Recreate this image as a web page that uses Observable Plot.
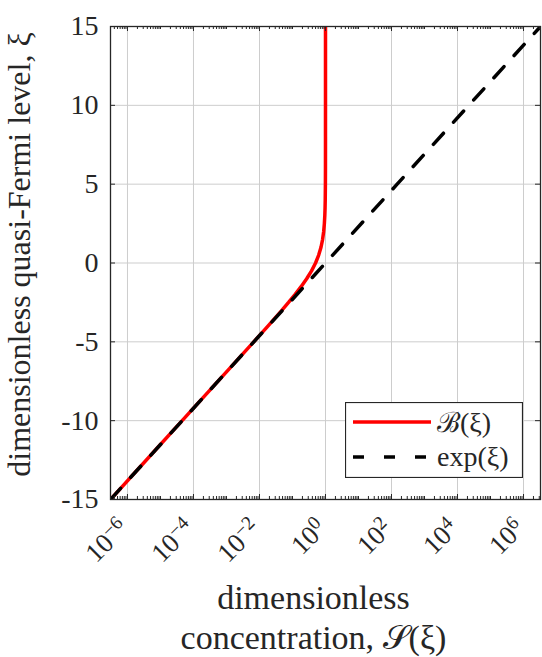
<!DOCTYPE html>
<html><head><meta charset="utf-8">
<script src="https://cdn.jsdelivr.net/npm/d3@7"></script>
<script src="https://cdn.jsdelivr.net/npm/@observablehq/plot@0.6"></script>
<style>
html,body{margin:0;padding:0;background:#fff;}
#wrap{position:relative;width:542px;height:657px;}
#legend{position:absolute;left:345px;top:402px;}
</style></head><body><div id="wrap"></div>
<script>
// red curve B(xi): dimensionless quasi-Fermi level vs concentration
const bXi = [-15,-12,-10,-8,-6,-5,-4,-3,-2.5,-2,-1.5,-1,-0.5,0,0.5,1,1.5,2,2.5,3,3.5,4,5,6,8,10,15];
const bS  = [3.06e-7,6.1e-6,4.54e-5,3.35e-4,2.47e-3,6.69e-3,0.018,0.0474,0.0759,0.119,0.182,0.269,0.378,0.5,0.622,0.731,0.818,0.881,0.924,0.953,0.971,0.982,0.9933,0.9975,0.99966,0.99995,1.0];
// black dashed exp(xi)
const eXi = [-15,-10,-5,0,5,10,15];
const eS  = [3.06e-7,4.54e-5,6.74e-3,1,148.4,2.2e4,3.27e6];
const xDomain = [3.06e-7, 3.27e6];
const yDomain = [-15, 15];
const xTicks = [1e-6,1e-4,1e-2,1,1e2,1e4,1e6];
const xTickBase = ["10","10","10","10","10","10","10"];
const xTickExp = ["−6","−4","−2","0","2","4","6"];
const yTicks = [-15,-10,-5,0,5,10,15];
const yTickLabels = ["-15","-10","-5","0","5","10","15"];
const seriesNames = ["ℬ(ξ)","exp(ξ)"];
const xLabelLines = ["dimensionless","concentration, 𝒮(ξ)"];
const yLabel = "dimensionless quasi-Fermi level, ξ";

const bData = bXi.map((v,i)=>({xi:v,S:bS[i]}));
const eData = eXi.map((v,i)=>({xi:v,S:eS[i]}));
const minor = [];
for (let n=-7;n<=6;n++) for (let k=1;k<=9;k++){const v=k*Math.pow(10,n); if(v>xDomain[0]&&v<xDomain[1]&&!(k===1&&n%2===0)) minor.push(v);}

const W=542,H=657,mL=110,mR=2,mT=26,mB=158;
const innerH=H-mT-mB, innerW=W-mL-mR;
const ink="#262626", gridC="#cdcdcd";
const FONT="'Liberation Serif', serif";

const chart = Plot.plot({
  width:W,height:H,marginLeft:mL,marginRight:mR,marginTop:mT,marginBottom:mB,
  x:{type:"log",domain:xDomain,axis:null,label:null},
  y:{domain:yDomain,axis:null,label:null},
  style:{fontFamily:FONT,color:ink,background:"#fff",overflow:"visible"},
  marks:[
    Plot.gridX(xTicks,{stroke:gridC,strokeOpacity:1,strokeWidth:1}),
    Plot.gridY(yTicks,{stroke:gridC,strokeOpacity:1,strokeWidth:1}),
    Plot.line(bData,{x:"S",y:"xi",stroke:"#ff0000",strokeWidth:3.5,clip:true}),
    Plot.line(eData,{x:"S",y:"xi",stroke:"#000",strokeWidth:3.5,strokeDasharray:"15,15",clip:true}),
    Plot.tickX(minor,{x:d=>d,insetTop:innerH-3,stroke:ink}),
    Plot.tickX(minor,{x:d=>d,insetBottom:innerH-3,stroke:ink}),
    Plot.tickX(xTicks,{x:d=>d,insetTop:innerH-5,stroke:ink}),
    Plot.tickX(xTicks,{x:d=>d,insetBottom:innerH-5,stroke:ink}),
    Plot.tickY(yTicks,{y:d=>d,insetRight:innerW-5,stroke:ink}),
    Plot.tickY(yTicks,{y:d=>d,insetLeft:innerW-5,stroke:ink}),
    Plot.frame({stroke:ink,strokeWidth:1.3}),
    Plot.text(yTicks,{y:d=>d,text:d=>yTickLabels[yTicks.indexOf(d)],frameAnchor:"left",textAnchor:"end",lineAnchor:"middle",dx:-12,fontSize:28,fill:ink}),
    Plot.text([xLabelLines[0]],{text:d=>d,frameAnchor:"bottom",dy:109,dx:-12,fontSize:34,lineAnchor:"bottom",fill:ink}),
    Plot.text([xLabelLines[1]],{text:d=>d,frameAnchor:"bottom",dy:149,dx:-12,fontSize:34,lineAnchor:"bottom",fill:ink})
  ]
});
document.getElementById("wrap").appendChild(chart);
const svg = d3.select(chart);
const xs = chart.scale("x");

// x tick labels (rotated, with superscript exponents), placed through Plot's x scale
const gx = svg.append("g").attr("font-family",FONT).attr("font-size",27).attr("fill",ink);
xTicks.forEach((t,i)=>{
  const px = xs.apply(t);
  const tx = gx.append("text").attr("text-anchor","end")
    .attr("transform",`translate(${px+3},${H-mB+31}) rotate(-45)`);
  tx.append("tspan").text(xTickBase[i]);
  tx.append("tspan").attr("dy","-0.45em").attr("font-size","0.72em").text(xTickExp[i]);
});

// y axis title
svg.append("text").attr("transform",`translate(30,${mT+innerH/2-8}) rotate(-90)`).attr("text-anchor","middle")
  .attr("font-size",32).attr("fill",ink).attr("font-family",FONT).text(yLabel);

// legend
const lg = d3.select("#wrap").append("svg").attr("id","legend").attr("width",178).attr("height",76)
  .style("font-family",FONT);
lg.append("rect").attr("x",0.5).attr("y",0.5).attr("width",177).attr("height",75).attr("fill","#fff").attr("stroke",ink).attr("stroke-width",1.2);
lg.append("line").attr("x1",8).attr("x2",86).attr("y1",20).attr("y2",20).attr("stroke","#ff0000").attr("stroke-width",3.5);
lg.append("line").attr("x1",8).attr("x2",86).attr("y1",55).attr("y2",55).attr("stroke","#000").attr("stroke-width",3.5).attr("stroke-dasharray","11,20");
lg.append("text").attr("x",92).attr("y",30).attr("font-size",28).attr("fill",ink).text(seriesNames[0]);
lg.append("text").attr("x",92).attr("y",64).attr("font-size",28).attr("fill",ink).text(seriesNames[1]);
</script></body></html>
